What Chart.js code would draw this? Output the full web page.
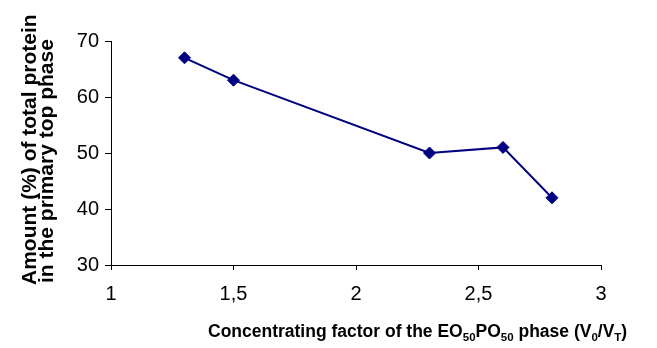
<!DOCTYPE html>
<html>
<head>
<meta charset="utf-8">
<script src="https://cdn.jsdelivr.net/npm/chart.js@4"></script>
<style>
  html, body { margin: 0; padding: 0; background: #fff; }
  #wrap { width: 657px; height: 348px; }
</style>
</head>
<body>
<div id="wrap"><canvas id="myChart" width="657" height="348"></canvas></div>
<script>
// DATA
const factors = [1.3, 1.5, 2.3, 2.6, 2.8];        // V0/VT
const proteinTop = [67, 63, 50, 51, 42];            // % in top phase
const xTicks = [1, 1.5, 2, 2.5, 3];
const yTicks = [30, 40, 50, 60, 70];

const navy = '#000080';
const fontFamily = "'Liberation Sans', Arial, sans-serif";

// axis titles drawn by hand (subscripts + two-line left title)
const xTitleParts = [
    ['Concentrating factor of the EO', false],
    ['50', true],
    ['PO', false],
    ['50', true],
    [' phase (V', false],
    ['0', true],
    ['/V', false],
    ['T', true],
    [')', false]
];
const yTitleLines = ['Amount (%) of total protein', 'in the primary top phase'];

const titlesPlugin = {
    id: 'titles',
    afterDraw(chart) {
        const ctx = chart.ctx;
        ctx.save();
        ctx.fillStyle = '#000';
        ctx.textBaseline = 'alphabetic';
        ctx.textAlign = 'left';

        // x title
        const big = 'bold 17.5px ' + fontFamily;
        const small = 'bold 11.5px ' + fontFamily;
        let x = 208;
        const base = 337;
        xTitleParts.forEach(p => {
            ctx.font = p[1] ? small : big;
            ctx.fillText(p[0], x, p[1] ? base + 4 : base);
            x += ctx.measureText(p[0]).width;
        });

        // y title, rotated
        ctx.font = 'bold 21px ' + fontFamily;
        ctx.translate(0, 285);
        ctx.rotate(-Math.PI / 2);
        ctx.fillText(yTitleLines[0], 0, 36);
        ctx.fillText(yTitleLines[1], 2, 53);
        ctx.restore();
    }
};

const points = factors.map((f, i) => ({ x: f, y: proteinTop[i] }));

const ctx = document.getElementById('myChart').getContext('2d');
const myChart = new Chart(ctx, {
    type: 'line',
    data: {
        datasets: [{
            data: points,
            borderColor: navy,
            backgroundColor: navy,
            borderWidth: 2,
            pointStyle: 'rectRot',
            pointRadius: 6,
            pointBorderWidth: 1,
            pointBackgroundColor: navy,
            pointBorderColor: navy,
            fill: false,
            tension: 0
        }]
    },
    options: {
        responsive: false,
        animation: false,
        layout: {
            padding: { left: 0, top: 41, right: 56, bottom: 0 }
        },
        plugins: {
            legend: { display: false },
            tooltip: { enabled: false },
            title: { display: false }
        },
        scales: {
            x: {
                type: 'linear',
                min: 1,
                max: 3,
                afterBuildTicks: scale => {
                    scale.ticks = xTicks.map(v => ({ value: v }));
                },
                afterFit: scale => { scale.height = 83; },
                grid: {
                    drawOnChartArea: false,
                    drawTicks: true,
                    tickLength: 5,
                    color: '#000'
                },
                border: { display: true, color: '#000', width: 1 },
                ticks: {
                    color: '#000',
                    font: { family: fontFamily, size: 20 },
                    padding: 12,
                    maxRotation: 0,
                    callback: v => String(v).replace('.', ',')
                }
            },
            y: {
                type: 'linear',
                min: 30,
                max: 70,
                afterBuildTicks: scale => {
                    scale.ticks = yTicks.map(v => ({ value: v }));
                },
                afterFit: scale => { scale.width = 111; },
                grid: {
                    drawOnChartArea: false,
                    drawTicks: true,
                    tickLength: 6,
                    color: '#000'
                },
                border: { display: true, color: '#000', width: 1 },
                ticks: {
                    color: '#000',
                    font: { family: fontFamily, size: 20 },
                    padding: 6
                }
            }
        }
    },
    plugins: [titlesPlugin]
});
</script>
</body>
</html>
